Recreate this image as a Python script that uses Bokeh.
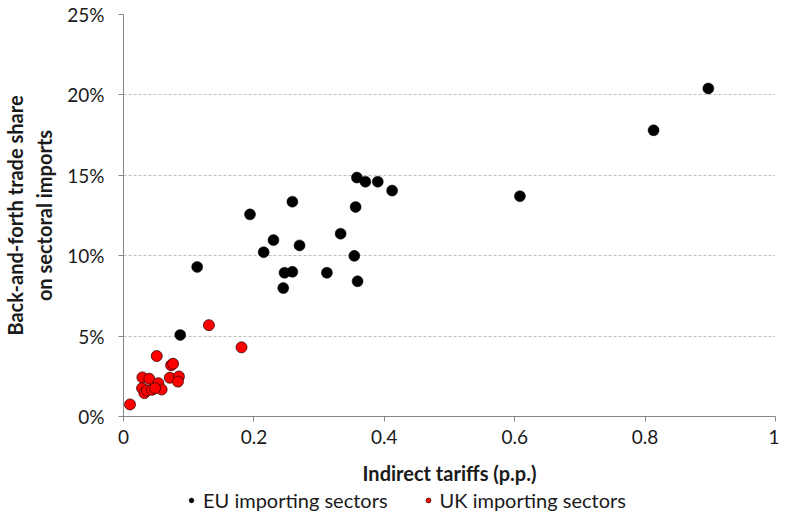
from bokeh.plotting import figure
from bokeh.models import FixedTicker, Legend, LegendItem, Range1d
from bokeh.layouts import column
from bokeh.embed import file_html
from bokeh.resources import INLINE

# ---- data ----
eu_x = [0.897, 0.813, 0.608, 0.412, 0.390, 0.371, 0.358, 0.356, 0.333, 0.354, 0.359,
        0.312, 0.270, 0.259, 0.230, 0.215, 0.194, 0.259, 0.247, 0.245, 0.113, 0.087]
eu_y = [20.4, 17.8, 13.7, 14.05, 14.6, 14.6, 14.86, 13.03, 11.37, 9.99, 8.41,
        8.94, 10.64, 13.36, 10.97, 10.22, 12.57, 9.0, 8.94, 7.99, 9.3, 5.07]

uk_x = [0.131, 0.181, 0.051, 0.073, 0.076, 0.029, 0.0395, 0.071, 0.085, 0.0835,
        0.0535, 0.0585, 0.0285, 0.032, 0.036, 0.0435, 0.0485, 0.010]
uk_y = [5.68, 4.30, 3.76, 3.19, 3.28, 2.43, 2.35, 2.41, 2.49, 2.17,
        2.07, 1.68, 1.76, 1.46, 1.62, 1.66, 1.76, 0.75]

x_ticks = [0, 0.2, 0.4, 0.6, 0.8, 1]
x_tick_labels = ["0", "0.2", "0.4", "0.6", "0.8", "1"]
y_ticks = [0, 5, 10, 15, 20, 25]
y_tick_labels = ["0%", "5%", "10%", "15%", "20%", "25%"]

series_names = ["EU importing sectors", "UK importing sectors"]
x_title = "Indirect tariffs (p.p.)"
y_title = "Back-and-forth trade share\non sectoral imports"

FONT = "Lato"
TXT = "#1a1a1a"
AXC = "#868686"
EU_STYLE = dict(fill_color="black", line_color="black", line_width=0.5)
UK_STYLE = dict(fill_color="#FF0000", line_color="#3a0000", line_width=0.8)

# ---- main scatter plot ----
p = figure(width=779, height=487, output_backend="svg", toolbar_location=None,
           x_range=Range1d(0, 1), y_range=Range1d(0, 25),
           min_border_left=116, min_border_right=4, min_border_top=14, min_border_bottom=66)
p.outline_line_color = None
p.background_fill_color = "white"

p.scatter(eu_x, eu_y, size=11, **EU_STYLE)
p.scatter(uk_x, uk_y, size=11, **UK_STYLE)

p.xgrid.visible = False
p.ygrid.grid_line_color = "#BFBFBF"
p.ygrid.grid_line_dash = "3 2"
p.ygrid.grid_line_width = 1

for ax in (p.xaxis[0], p.yaxis[0]):
    ax.axis_line_color = AXC
    ax.major_tick_line_color = AXC
    ax.minor_tick_line_color = None
    ax.major_tick_out = 5
    ax.major_tick_in = 0
    ax.major_label_text_font = FONT
    ax.major_label_text_font_size = "19px"
    ax.major_label_text_color = TXT
    ax.axis_label_text_font = FONT
    ax.axis_label_text_font_size = "20px"
    ax.axis_label_text_font_style = "bold"
    ax.axis_label_text_color = TXT

p.xaxis.ticker = FixedTicker(ticks=x_ticks)
p.xaxis.major_label_overrides = dict(zip(x_ticks, x_tick_labels))
p.yaxis.ticker = FixedTicker(ticks=y_ticks)
p.yaxis.major_label_overrides = dict(zip(y_ticks, y_tick_labels))
p.xaxis.axis_label = x_title
p.yaxis.axis_label = y_title
p.xaxis.major_label_standoff = 8
p.yaxis.major_label_standoff = 14
p.xaxis.axis_label_standoff = 14
p.yaxis.axis_label_standoff = 8

# ---- legend strip (same series, kept out of view; only the legend shows) ----
lg = figure(width=779, height=28, output_backend="svg", toolbar_location=None,
            x_range=Range1d(10, 11), y_range=Range1d(100, 101),
            min_border_left=0, min_border_right=0, min_border_top=0, min_border_bottom=0)
lg.outline_line_color = None
lg.axis.visible = False
lg.grid.visible = False
eu_l = lg.scatter(eu_x, eu_y, size=9, **EU_STYLE)
uk_l = lg.scatter(uk_x, uk_y, size=9, **UK_STYLE)

legend = Legend(items=[LegendItem(label=series_names[0], renderers=[eu_l]),
                       LegendItem(label=series_names[1], renderers=[uk_l])],
                orientation="horizontal", location=(62, 3))
legend.border_line_color = None
legend.background_fill_alpha = 0
legend.label_text_font = FONT
legend.label_text_font_size = "20px"
legend.label_text_color = TXT
legend.label_height = 18
legend.glyph_width = 12
legend.glyph_height = 12
legend.spacing = 34
legend.padding = 0
legend.margin = 0
legend.label_standoff = 6
lg.add_layout(legend, "center")

layout = column(p, lg, spacing=0)
open("out.html", "w").write(file_html(layout, INLINE))
